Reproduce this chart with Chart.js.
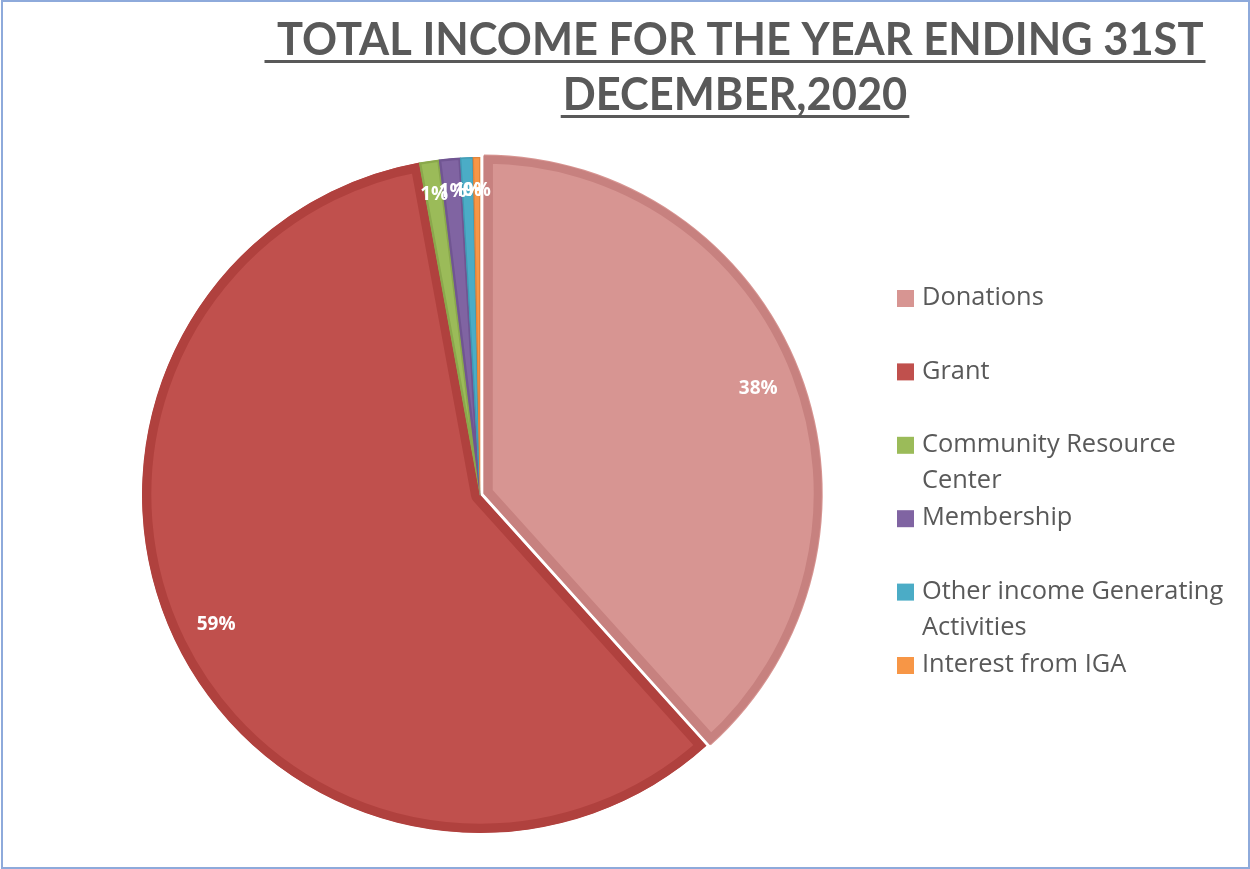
<!DOCTYPE html>
<html>
<head>
<meta charset="utf-8">
<title>Total income 2020</title>
<script src="https://cdn.jsdelivr.net/npm/chart.js@4.4.1/dist/chart.umd.min.js"></script>
<style>
  html, body { margin: 0; padding: 0; background: #ffffff; }
  #wrap { width: 1250px; height: 869px; }
</style>
</head>
<body>
<div id="wrap"><canvas id="incomeChart" width="1250" height="869"></canvas></div>
<script>
// income sources and their share of the year's total (%)
const titleLines = [' TOTAL INCOME FOR THE YEAR ENDING 31ST', 'DECEMBER,2020'];
const categories = [
  'Donations',
  'Grant',
  'Community Resource Center',
  'Membership',
  'Other income Generating Activities',
  'Interest from IGA'
];
const incomeShares = [38.3, 58.75, 0.95, 1.0, 0.6, 0.33];

const fillColors = ['#d79592', '#c0504d', '#9bbb59', '#8064a2', '#4bacc6', '#f79646'];
const edgeColors = ['#c7817f', '#b0413e', '#8aa84c', '#705592', '#3f9ab3', '#e2843a'];

const textGrey = '#595959';

// outer frame of the chart object
const framePlugin = {
  id: 'frame',
  afterDraw(chart) {
    const ctx = chart.ctx;
    ctx.save();
    ctx.strokeStyle = '#8eaadb';
    ctx.lineWidth = 2;
    ctx.strokeRect(2, 1, chart.width - 3, chart.height - 2);
    ctx.restore();
  }
};

// underlined two-line heading, squeezed to a condensed look
const headingPlugin = {
  id: 'heading',
  afterDraw(chart) {
    const ctx = chart.ctx;
    const cx = 735;
    const baselines = [55, 110];
    ctx.save();
    ctx.font = 'bold 46px Lato';
    ctx.fillStyle = textGrey;
    ctx.textBaseline = 'alphabetic';
    ctx.textAlign = 'center';
    const squeeze = 937 / ctx.measureText(titleLines[0]).width;
    titleLines.forEach((line, i) => {
      const w = ctx.measureText(line).width * squeeze;
      ctx.save();
      ctx.translate(cx, baselines[i]);
      ctx.scale(squeeze, 1);
      ctx.fillText(line, 0, 0);
      ctx.restore();
      ctx.fillRect(cx - w / 2 - 2, baselines[i] + 5, w + 4, 3);
    });
    ctx.restore();
  }
};

// percentage labels placed near the rim of each slice
const sliceLabelPlugin = {
  id: 'sliceLabels',
  afterDatasetsDraw(chart) {
    const ctx = chart.ctx;
    const meta = chart.getDatasetMeta(0);
    const values = chart.data.datasets[0].data;
    const total = values.reduce((a, b) => a + b, 0);
    ctx.save();
    ctx.font = 'bold 19px "Open Sans"';
    ctx.fillStyle = '#ffffff';
    ctx.textAlign = 'center';
    ctx.textBaseline = 'middle';
    meta.data.forEach((arc, i) => {
      const p = arc.getProps(['x', 'y', 'startAngle', 'endAngle', 'outerRadius'], true);
      const mid = (p.startAngle + p.endAngle) / 2;
      const shift = (arc.options.offset || 0) / 4;
      const frac = (p.endAngle - p.startAngle) > 0.5 ? 0.87 : 0.9;
      const r = p.outerRadius * frac + shift;
      const label = Math.round(values[i] / total * 100) + '%';
      ctx.fillText(label, p.x + Math.cos(mid) * r, p.y + Math.sin(mid) * r);
    });
    ctx.restore();
  }
};

// legend on the right, long names wrapped onto a second line
const sideLegendPlugin = {
  id: 'sideLegend',
  afterDraw(chart) {
    const ctx = chart.ctx;
    const boxX = 897, textX = 922, firstY = 298, step = 73.4, lineH = 36, maxW = 314;
    ctx.save();
    ctx.font = '25.4px "Open Sans"';
    ctx.textBaseline = 'middle';
    ctx.textAlign = 'left';
    categories.forEach((name, i) => {
      const y = firstY + i * step;
      ctx.fillStyle = fillColors[i];
      ctx.fillRect(boxX, y - 8, 17, 17);
      ctx.fillStyle = textGrey;
      const lines = [];
      let cur = '';
      name.split(' ').forEach(word => {
        const test = cur ? cur + ' ' + word : word;
        if (cur && ctx.measureText(test).width > maxW) {
          lines.push(cur);
          cur = word;
        } else {
          cur = test;
        }
      });
      lines.push(cur);
      lines.forEach((line, j) => ctx.fillText(line, textX, y + j * lineH));
    });
    ctx.restore();
  }
};

new Chart(document.getElementById('incomeChart'), {
  type: 'pie',
  data: {
    labels: categories,
    datasets: [{
      data: incomeShares,
      backgroundColor: fillColors,
      borderColor: edgeColors,
      borderWidth: [9, 9, 2, 2, 1, 1],
      borderAlign: 'inner',
      offset: [16, 0, 0, 0, 0, 0],
      hoverOffset: 0,
      radius: 338
    }]
  },
  options: {
    responsive: false,
    animation: false,
    devicePixelRatio: 1,
    layout: {
      padding: { left: 100, right: 390, top: 151, bottom: 30 }
    },
    plugins: {
      legend: { display: false },
      title: { display: false },
      tooltip: { enabled: false }
    }
  },
  plugins: [framePlugin, headingPlugin, sliceLabelPlugin, sideLegendPlugin]
});
</script>
</body>
</html>
